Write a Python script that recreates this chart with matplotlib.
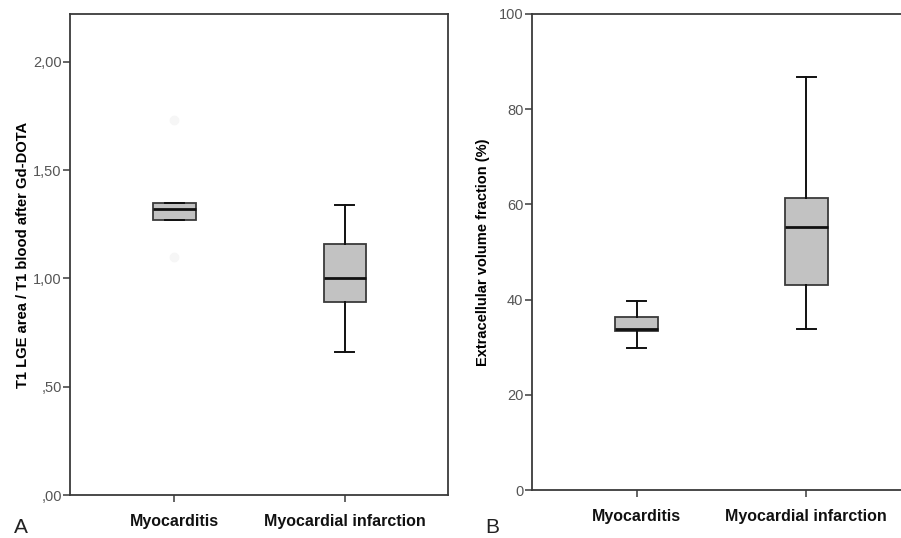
import numpy as np
import matplotlib
matplotlib.use("Agg")
import matplotlib.pyplot as plt

plt.rcParams['font.family'] = ['Liberation Sans', 'DejaVu Sans']

groups = ["Myocarditis", "Myocardial infarction"]

# panel A: T1 ratio
a_whislo = [1.27, 0.66]
a_q1 = [1.27, 0.89]
a_med = [1.32, 1.00]
a_q3 = [1.35, 1.16]
a_whishi = [1.35, 1.34]
a_fliers = [[1.73, 1.10], []]
a_ticks = [0.0, 0.5, 1.0, 1.5, 2.0]
a_ticklabels = [",00", ",50", "1,00", "1,50", "2,00"]

# panel B: ECV
b_whislo = [29.9, 33.8]
b_q1 = [33.4, 43.1]
b_med = [33.8, 55.3]
b_q3 = [36.4, 61.4]
b_whishi = [39.7, 86.7]
b_ticks = [0, 20, 40, 60, 80, 100]

box_fill = "#c2c2c2"
edge = "#3a3a3a"
tick_col = "#555555"


def make_stats(lo, q1, med, q3, hi, fl=None):
    out = []
    for i in range(len(groups)):
        out.append({"whislo": lo[i], "q1": q1[i], "med": med[i], "q3": q3[i],
                    "whishi": hi[i], "fliers": (fl[i] if fl else [])})
    return out


def style_axes(ax):
    for s in ax.spines.values():
        s.set_color(edge)
        s.set_linewidth(1.3)
    ax.tick_params(axis='y', direction='out', length=5, width=1.1, color=edge,
                   labelsize=10.5, labelcolor=tick_col, pad=1)
    ax.tick_params(axis='x', direction='out', length=5, width=1.1, color=edge, pad=9)
    ax.set_xticks([1, 2])
    ax.set_xticklabels(groups, fontsize=11.5, fontweight='bold', color="#111111")


def draw(ax, stats):
    ax.bxp(stats, positions=[1, 2], widths=0.25, patch_artist=True,
           showfliers=True,
           boxprops=dict(facecolor=box_fill, edgecolor=edge, linewidth=1.3),
           medianprops=dict(color="#111111", linewidth=2.0),
           whiskerprops=dict(color="#111111", linewidth=1.4),
           capprops=dict(color="#111111", linewidth=1.4),
           capwidths=0.11,
           flierprops=dict(marker='o', markersize=6, markerfacecolor='#f6f6f6',
                           markeredgecolor='#f6f6f6', markeredgewidth=1))


fig = plt.figure(figsize=(9.01, 5.38), dpi=100)

ax1 = fig.add_axes([0.0777, 0.0799, 0.4195, 0.894])
draw(ax1, make_stats(a_whislo, a_q1, a_med, a_q3, a_whishi, a_fliers))
ax1.set_xlim(0.388, 2.605)
ax1.set_ylim(0, 2.22)
ax1.set_yticks(a_ticks)
ax1.set_yticklabels(a_ticklabels)
style_axes(ax1)
ax1.set_ylabel("T1 LGE area / T1 blood after Gd-DOTA", fontsize=10.6, fontweight='bold', labelpad=2)
fig.text(0.015, 0.01, "A", fontsize=15, color="#222222")

ax2 = fig.add_axes([0.590, 0.0892, 0.418, 0.885])
draw(ax2, make_stats(b_whislo, b_q1, b_med, b_q3, b_whishi))
ax2.set_xlim(0.382, 2.6)
ax2.set_ylim(0, 100)
ax2.set_yticks(b_ticks)
style_axes(ax2)
ax2.set_ylabel("Extracellular volume fraction (%)", fontsize=10.5, fontweight='bold', labelpad=6)
fig.text(0.539, 0.01, "B", fontsize=15, color="#222222")

fig.savefig("out.png", dpi=100)
